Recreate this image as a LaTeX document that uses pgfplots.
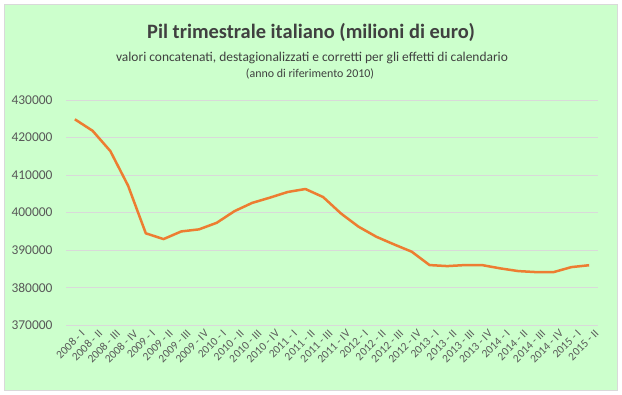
\documentclass[border=0pt]{standalone}
\usepackage{pgfplots}
\pgfplotsset{compat=1.18}
\usepackage{fontspec}
\setmainfont{Carlito}
\definecolor{bg}{HTML}{CCFFCC}
\definecolor{bord}{HTML}{D9D9D9}
\definecolor{gridc}{HTML}{D9D9D9}
\definecolor{txt}{HTML}{595959}
\definecolor{ttl}{HTML}{404040}
\definecolor{ora}{HTML}{ED7D31}
\begin{document}
\begin{tikzpicture}[x=1bp,y=1bp]
\path[use as bounding box,fill=white] (0,0) rectangle (622,394);
\draw[bord,fill=bg,line width=0.8bp] (4,4) rectangle (617,390);
\node[text=ttl,font=\bfseries\fontsize{20.5}{24}\selectfont] at (311,362) {Pil trimestrale italiano (milioni di euro)};
\node[text=ttl,font=\fontsize{13.5}{16}\selectfont] at (312,336) {valori concatenati, destagionalizzati e corretti per gli effetti di calendario};
\node[text=ttl,font=\fontsize{12}{14}\selectfont] at (310,320) {(anno di riferimento 2010)};
\begin{axis}[
  at={(66bp,68.7bp)}, anchor=south west,
  scale only axis, width=532bp, height=225.3bp,
  xmin=-0.5, xmax=29.5, ymin=370000, ymax=430000,
  ytick={370000,380000,...,430000},
  xtick={0,...,29},
  xticklabels={2008 - I,2008 - II,2008 - III,2008 - IV,2009 - I,2009 - II,2009 - III,2009 - IV,2010 - I,2010 - II,2010 - III,2010 - IV,2011 - I,2011 - II,2011 - III,2011 - IV,2012 - I,2012 - II,2012 - III,2012 - IV,2013 - I,2013 - II,2013 - III,2013 - IV,2014 - I,2014 - II,2014 - III,2014 - IV,2015 - I,2015 - II},
  x tick label style={rotate=45, anchor=north east, inner sep=1bp, xshift=2bp, yshift=-5bp, font=\fontsize{11.5}{12}\selectfont, text=txt},
  y tick label style={font=\fontsize{13.5}{14}\selectfont, text=txt, xshift=-10bp},
  /pgf/number format/assume math mode=true,
  /pgf/number format/fixed,
  /pgf/number format/1000 sep={},
  scaled y ticks=false,
  axis line style={draw=none},
  major tick length=0pt,
  ymajorgrids, grid style={gridc, line width=0.8bp},
  axis background/.style={fill=bg},
  clip=false,
]
\addplot[ora, line width=2.5bp, line join=round] coordinates {
(0,424860) (1,421800) (2,416400) (3,407200) (4,394500) (5,392960) (6,395000) (7,395550)
(8,397300) (9,400400) (10,402600) (11,404000) (12,405500) (13,406300) (14,404150) (15,399800)
(16,396250) (17,393580) (18,391540) (19,389590) (20,386040) (21,385770) (22,386040) (23,386000)
(24,385150) (25,384440) (26,384170) (27,384170) (28,385500) (29,386000)
};
\end{axis}
\end{tikzpicture}
\end{document}
